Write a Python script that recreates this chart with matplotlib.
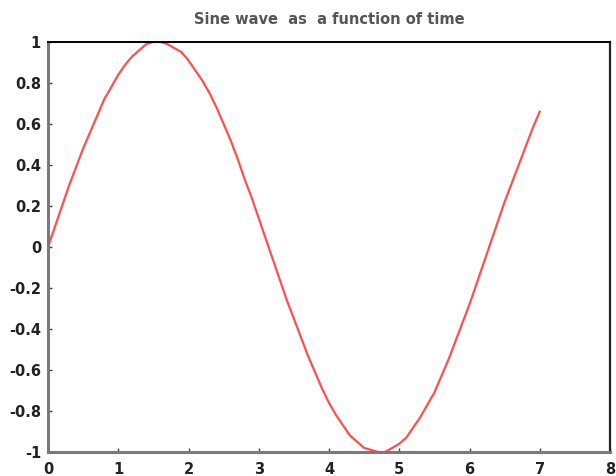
import matplotlib
matplotlib.use("Agg")
import matplotlib.pyplot as plt

t = [0.0, 0.1, 0.2, 0.3, 0.4, 0.5, 0.6, 0.7, 0.8, 0.9,
     1.0, 1.1, 1.2, 1.3, 1.4, 1.5, 1.6, 1.7, 1.8, 1.9,
     2.0, 2.1, 2.2, 2.3, 2.4, 2.5, 2.6, 2.7, 2.8, 2.9,
     3.0, 3.1, 3.2, 3.3, 3.4, 3.5, 3.6, 3.7, 3.8, 3.9,
     4.0, 4.1, 4.2, 4.3, 4.4, 4.5, 4.6, 4.7, 4.8, 4.9,
     5.0, 5.1, 5.2, 5.3, 5.4, 5.5, 5.6, 5.7, 5.8, 5.9,
     6.0, 6.1, 6.2, 6.3, 6.4, 6.5, 6.6, 6.7, 6.8, 6.9,
     7.0]
y = [0.00, 0.10, 0.20, 0.30, 0.39, 0.48, 0.56, 0.64, 0.72, 0.78,
     0.84, 0.89, 0.93, 0.96, 0.99, 1.00, 1.00, 0.99, 0.97, 0.95,
     0.91, 0.86, 0.81, 0.75, 0.68, 0.60, 0.52, 0.43, 0.33, 0.24,
     0.14, 0.04, -0.06, -0.16, -0.26, -0.35, -0.44, -0.53, -0.61, -0.69,
     -0.76, -0.82, -0.87, -0.92, -0.95, -0.98, -0.99, -1.00, -1.00, -0.98,
     -0.96, -0.93, -0.88, -0.83, -0.77, -0.71, -0.63, -0.55, -0.46, -0.37,
     -0.28, -0.18, -0.08, 0.02, 0.12, 0.22, 0.31, 0.40, 0.49, 0.58,
     0.66]
xticks = [0, 1, 2, 3, 4, 5, 6, 7, 8]
xtick_labels = ["0", "1", "2", "3", "4", "5", "6", "7", "8"]
yticks = [-1, -0.8, -0.6, -0.4, -0.2, 0, 0.2, 0.4, 0.6, 0.8, 1]
ytick_labels = ["-1", "-0.8", "-0.6", "-0.4", "-0.2", "0", "0.2", "0.4", "0.6", "0.8", "1"]
title = "Sine wave  as  a function of time"

plt.rcParams['font.family'] = ['DejaVu Sans']

fig = plt.figure(figsize=(6.16, 4.76), dpi=100)
ax = fig.add_axes([48/616, 1 - 452/476, (610 - 48)/616, (452 - 42)/476])
ax.plot(t, y, color='#ff3030', linewidth=1.6, alpha=0.85, solid_joinstyle='round')
ax.set_xlim(0, 8)
ax.set_ylim(-1, 1)
ax.set_xticks(xticks)
ax.set_xticklabels(xtick_labels)
ax.set_yticks(yticks)
ax.set_yticklabels(ytick_labels)
ax.tick_params(direction='in', length=3, width=1, color='#404040',
               labelsize=10.5, labelcolor='#222222')
ax.tick_params(axis='x', pad=7)
ax.tick_params(axis='y', pad=5)
for lab in ax.get_xticklabels() + ax.get_yticklabels():
    lab.set_fontweight('bold')
ax.spines['left'].set_color('#7a7a7a')
ax.spines['left'].set_linewidth(2.2)
ax.spines['bottom'].set_color('#7a7a7a')
ax.spines['bottom'].set_linewidth(2.2)
ax.spines['top'].set_color('#000000')
ax.spines['top'].set_linewidth(1.4)
ax.spines['right'].set_color('#222222')
ax.spines['right'].set_linewidth(1.6)
ax.set_title(title, fontsize=10.5, color='#555555', fontweight='bold', pad=13)
fig.savefig("out.png", dpi=100)
